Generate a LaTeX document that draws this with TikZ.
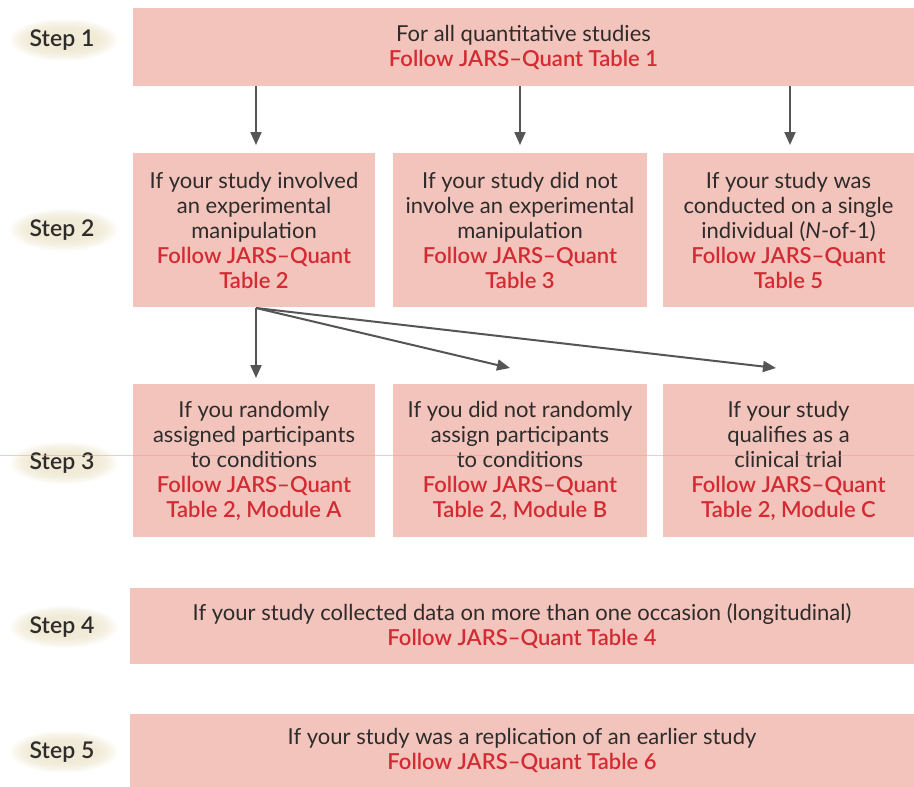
\documentclass[tikz,border=0pt]{standalone}
\usepackage{fontspec}
\setmainfont{Lato}
\newfontfamily\semib{Lato}[UprightFont=* Semibold]
\usetikzlibrary{arrows.meta}
\definecolor{boxpink}{HTML}{F2C4BC}
\definecolor{follow}{HTML}{D42A32}
\definecolor{ink}{HTML}{2E2B2B}
\definecolor{arrowgray}{HTML}{555555}
\definecolor{halo}{HTML}{EDE6C8}
\definecolor{rule}{HTML}{EE9A90}
\tikzset{
  stepbox/.style={fill=boxpink, draw=none, align=center, inner sep=0pt,
    font=\fontsize{22}{25}\selectfont, text=ink},
  steplabel/.style={font=\semib\fontsize{23}{26}\selectfont, text=ink, inner sep=0pt},
  flow/.style={draw=arrowgray, line width=2pt, -{Triangle[length=13pt,width=11pt]}},
}
\newcommand{\follow}[1]{{\semib\color{follow}#1}}
\newcommand{\halo}[1]{%
  \foreach \i in {0,...,9}
    \fill[halo, opacity=0.11] #1 ellipse ({34+2.2*\i} and {11+1.1*\i});}
\begin{document}
\begin{tikzpicture}[x=1pt,y=-1pt]
\useasboundingbox (0,0) rectangle (914,787);
\fill[white] (0,0) rectangle (914,787);

% soft halos behind the step labels
\halo{(64,40)}
\halo{(64,230)}
\halo{(64,463)}
\halo{(64,627)}
\halo{(64,752)}

\node[steplabel] (l1) at (62,40) {Step 1};
\node[steplabel] (l2) at (62,230) {Step 2};
\node[steplabel] (l3) at (62,463) {Step 3};
\node[steplabel] (l4) at (62,627) {Step 4};
\node[steplabel] (l5) at (62,752) {Step 5};

% step 1
\node[stepbox, minimum width=781pt, minimum height=78pt] (s1) at (523.5,47)
  {For all quantitative studies\\ \follow{Follow JARS–Quant Table 1}};

% step 2
\node[stepbox, minimum width=242pt, minimum height=154pt] (b21) at (254,230)
  {If your study involved\\ an experimental\\ manipulation\\
   \follow{Follow JARS–Quant}\\ \follow{Table 2}};
\node[stepbox, minimum width=254pt, minimum height=154pt] (b22) at (520,230)
  {If your study did not\\ involve an experimental\\ manipulation\\
   \follow{Follow JARS–Quant}\\ \follow{Table 3}};
\node[stepbox, minimum width=251pt, minimum height=154pt] (b23) at (788.5,230)
  {If your study was\\ conducted on a single\\ individual (\textit{N}-of-1)\\
   \follow{Follow JARS–Quant}\\ \follow{Table 5}};

% step 3
\node[stepbox, minimum width=242pt, minimum height=153pt] (b31) at (254,460.5)
  {If you randomly\\ assigned participants\\ to conditions\\
   \follow{Follow JARS–Quant}\\ \follow{Table 2, Module A}};
\node[stepbox, minimum width=254pt, minimum height=153pt] (b32) at (520,460.5)
  {If you did not randomly\\ assign participants\\ to conditions\\
   \follow{Follow JARS–Quant}\\ \follow{Table 2, Module B}};
\node[stepbox, minimum width=251pt, minimum height=153pt] (b33) at (788.5,460.5)
  {If your study\\ qualifies as a\\ clinical trial\\
   \follow{Follow JARS–Quant}\\ \follow{Table 2, Module C}};

% step 4 and step 5
\node[stepbox, minimum width=784pt, minimum height=76pt] (s4) at (522,626)
  {If your study collected data on more than one occasion (longitudinal)\\
   \follow{Follow JARS–Quant Table 4}};
\node[stepbox, minimum width=784pt, minimum height=73pt] (s5) at (522,750.5)
  {If your study was a replication of an earlier study\\
   \follow{Follow JARS–Quant Table 6}};

% faint rule across the step 3 row
\draw[rule, opacity=0.5, line width=0.8pt] (0,455) -- (914,455);

% arrows from step 1 into step 2
\coordinate (a1) at (256,86);
\coordinate (a2) at (520,86);
\coordinate (a3) at (790,86);
\coordinate (e1) at (256,145);
\coordinate (e2) at (520,145);
\coordinate (e3) at (790,145);
\draw[flow] (a1) -- (e1);
\draw[flow] (a2) -- (e2);
\draw[flow] (a3) -- (e3);

% arrows from step 2 into step 3
\coordinate (f0) at (256,308);
\coordinate (f1) at (256,378);
\coordinate (f2) at (510,368);
\coordinate (f3) at (776,368);
\draw[flow] (f0) -- (f1);
\draw[flow] (f0) -- (f2);
\draw[flow] (f0) -- (f3);
\end{tikzpicture}
\end{document}
